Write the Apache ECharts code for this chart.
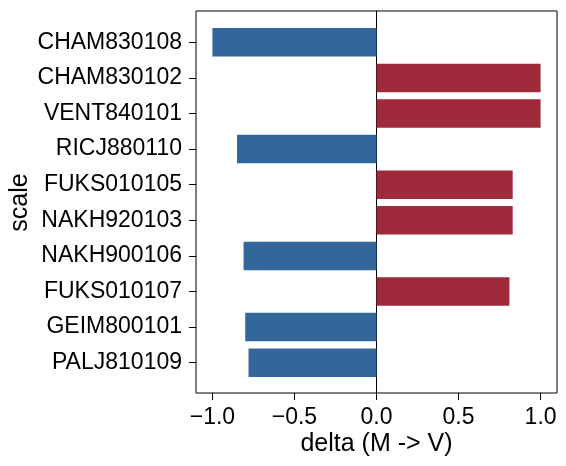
<!DOCTYPE html>
<html>
<head>
<meta charset="utf-8">
<script src="https://cdn.jsdelivr.net/npm/echarts@6/dist/echarts.min.js"></script>
<style>
  html, body { margin: 0; padding: 0; background: #fff; }
  #chart { width: 566px; height: 466px; }
</style>
</head>
<body>
<div id="chart"></div>
<script>
// scales, top to bottom
const scales = ['CHAM830108', 'CHAM830102', 'VENT840101', 'RICJ880110', 'FUKS010105',
                'NAKH920103', 'NAKH900106', 'FUKS010107', 'GEIM800101', 'PALJ810109'];
const deltas = [-1.0, 1.0, 1.0, -0.85, 0.83, 0.83, -0.81, 0.81, -0.80, -0.78];
const xTicks = [-1.0, -0.5, 0.0, 0.5, 1.0];

const BLUE = '#336699';
const RED = '#9e2a3b';
const FONT = 'Liberation Sans, Arial, sans-serif';

const fmt = v => v.toFixed(1).replace('-', '\u2212');

const chart = echarts.init(document.getElementById('chart'), null, { renderer: 'canvas' });

chart.setOption({
    animation: false,
    backgroundColor: '#fff',
    textStyle: { fontFamily: FONT, color: '#000' },
    grid: [
        // frame + x axis
        { left: 196, right: 9, top: 11, bottom: 73, outerBoundsMode: 'none', containLabel: false,
          show: true, borderColor: '#000', borderWidth: 1, backgroundColor: 'transparent' },
        // bars
        { left: 196, right: 9, top: 24.5, bottom: 85.5, outerBoundsMode: 'none', containLabel: false }
    ],
    xAxis: [
        {
            gridIndex: 0, type: 'value', min: -1.1, max: 1.1,
            name: 'delta (M -> V)', nameLocation: 'middle', nameGap: 39, nameMoveOverlap: false,
            nameTextStyle: { fontSize: 25, color: '#000', fontFamily: FONT },
            axisLine: { show: false },
            axisTick: { show: true, length: 7, inside: false, customValues: xTicks, lineStyle: { color: '#000', width: 1 } },
            axisLabel: { customValues: xTicks, formatter: fmt, fontSize: 23, color: '#000', margin: 13, fontFamily: FONT },
            splitLine: { show: false }
        },
        {
            gridIndex: 1, type: 'value', min: -1.1, max: 1.1,
            show: false
        }
    ],
    yAxis: [
        {
            // zero line
            gridIndex: 0, type: 'value', min: 0, max: 1,
            axisLine: { show: true, onZero: true, lineStyle: { color: '#000', width: 1 } },
            axisTick: { show: false }, axisLabel: { show: false }, splitLine: { show: false }
        },
        {
            gridIndex: 1, type: 'category', data: scales, inverse: true,
            name: 'scale', nameLocation: 'middle', nameGap: 163, nameMoveOverlap: false,
            nameTextStyle: { fontSize: 25, color: '#000', fontFamily: FONT },
            axisLine: { show: false, onZero: false },
            axisTick: { show: true, alignWithLabel: true, length: 7, lineStyle: { color: '#000', width: 1 } },
            axisLabel: { fontSize: 23, color: '#000', margin: 14, fontFamily: FONT },
            splitLine: { show: false }
        }
    ],
    series: [{
        type: 'bar',
        xAxisIndex: 1, yAxisIndex: 1,
        barWidth: '80%',
        data: deltas.map(v => ({ value: v, itemStyle: { color: v < 0 ? BLUE : RED } }))
    }]
});
</script>
</body>
</html>
